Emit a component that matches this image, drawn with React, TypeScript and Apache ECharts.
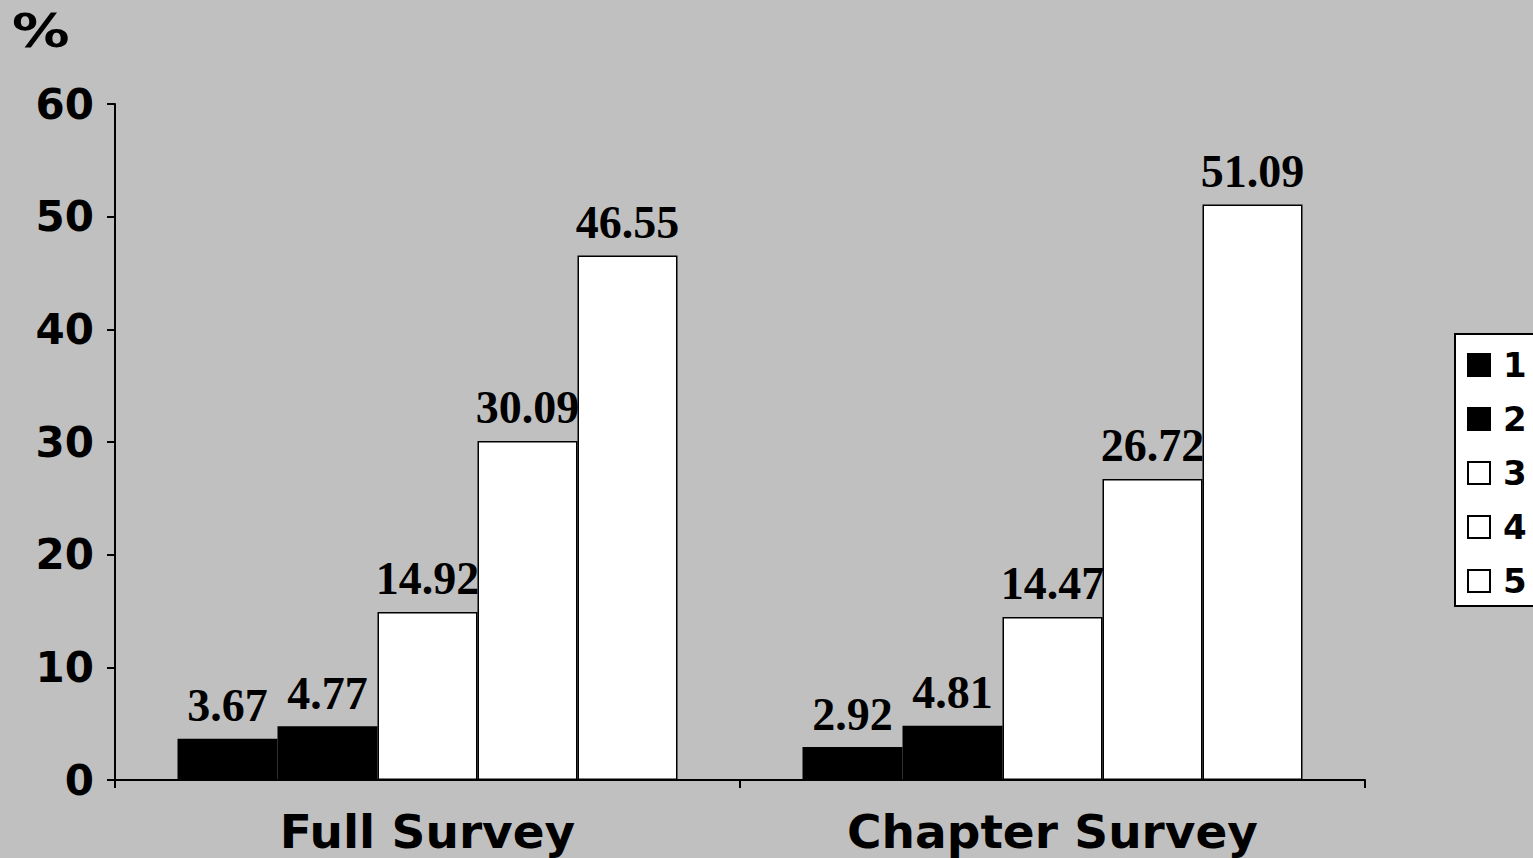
import React, { useEffect, useRef } from "react";
import * as echarts from "echarts";

const categories = ["Full Survey", "Chapter Survey"];
const seriesNames = ["1", "2", "3", "4", "5"];
const values1 = [3.67, 2.92];
const values2 = [4.77, 4.81];
const values3 = [14.92, 14.47];
const values4 = [30.09, 26.72];
const values5 = [46.55, 51.09];
const seriesColors = ["#000000", "#000000", "#ffffff", "#ffffff", "#ffffff"];
const yTicks = { min: 0, max: 60, interval: 10 };

const SANS = "'DejaVu Sans', Verdana, sans-serif";
const SERIF = "'Liberation Serif', 'Times New Roman', serif";

export default function App() {
  const ref = useRef<HTMLDivElement>(null);
  useEffect(() => {
    if (!ref.current) return;
    const chart = echarts.init(ref.current, null, { renderer: "svg" });
    const allValues = [values1, values2, values3, values4, values5];
    chart.setOption({
      animation: false,
      backgroundColor: "#c0c0c0",
      grid: { left: 115, right: 168, top: 104, bottom: 78, containLabel: false },
      graphic: [
        {
          type: "text",
          x: 12,
          y: 8,
          scaleX: 1.25,
          style: { text: "%", font: `bold 46px ${SANS}`, fill: "#000" },
        },
      ],
      legend: {
        orient: "vertical",
        left: 1455,
        top: 334,
        data: seriesNames,
        icon: "rect",
        itemWidth: 22,
        itemHeight: 22,
        itemGap: 20,
        padding: [14, 40, 8, 12],
        backgroundColor: "#ffffff",
        borderColor: "#000000",
        borderWidth: 2,
        textStyle: {
          fontFamily: SANS,
          fontWeight: "bold",
          fontSize: 34,
          lineHeight: 34,
          color: "#000",
          padding: [0, 0, 0, 8],
        },
      },
      xAxis: {
        type: "category",
        data: categories,
        axisLine: { lineStyle: { color: "#000", width: 2 } },
        axisTick: { show: true, length: 8, lineStyle: { color: "#000", width: 2 } },
        axisLabel: {
          fontFamily: SANS,
          fontWeight: "bold",
          fontSize: 47,
          color: "#000",
          margin: 28,
        },
      },
      yAxis: {
        type: "value",
        min: yTicks.min,
        max: yTicks.max,
        interval: yTicks.interval,
        splitLine: { show: false },
        axisLine: { show: true, lineStyle: { color: "#000", width: 2 } },
        axisTick: { show: true, length: 8, lineStyle: { color: "#000", width: 2 } },
        axisLabel: {
          fontFamily: SANS,
          fontWeight: "bold",
          fontSize: 42,
          color: "#000",
          margin: 21,
          padding: [6, 0, 0, 0],
        },
      },
      series: seriesNames.map((name, i) => ({
        name,
        type: "bar",
        data: allValues[i],
        barGap: "0%",
        barCategoryGap: "20%",
        itemStyle: { color: seriesColors[i], borderColor: "#000", borderWidth: 1.5 },
        label: {
          show: true,
          position: "top",
          distance: 10,
          fontFamily: SERIF,
          fontWeight: "bold",
          fontSize: 46,
          color: "#000",
          formatter: (p: any) => p.value.toFixed(2),
        },
      })),
    });
    return () => chart.dispose();
  }, []);
  return (
    <div
      ref={ref}
      style={{ position: "fixed", left: 0, top: 0, width: 1533, height: 858 }}
    />
  );
}
